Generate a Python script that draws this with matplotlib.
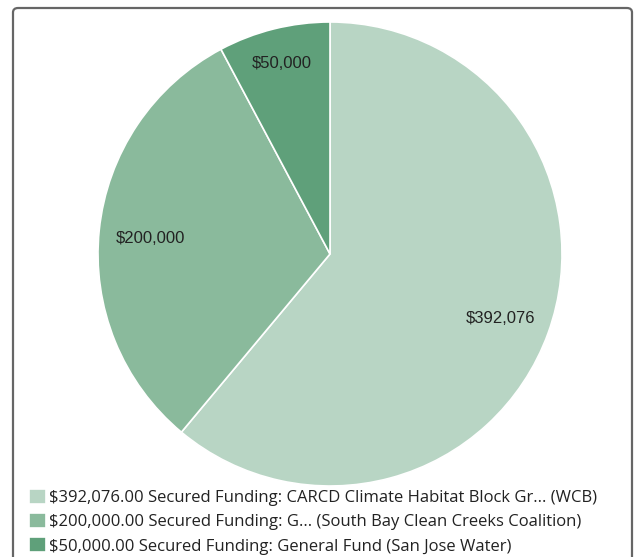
import matplotlib.pyplot as plt
from matplotlib.patches import FancyBboxPatch
import numpy as np

# datos del grafico
valores = [392076, 200000, 50000]
etiquetas = ['$392,076', '$200,000', '$50,000']
leyenda = ['$392,076.00 Secured Funding: CARCD Climate Habitat Block Gr... (WCB)',
           '$200,000.00 Secured Funding: G... (South Bay Clean Creeks Coalition)',
           '$50,000.00 Secured Funding: General Fund (San Jose Water)']
colores = ['#b8d5c4', '#8aba9c', '#5fa07a']

W, H = 639, 557
fig = plt.figure(figsize=(W / 100, H / 100), dpi=100)

# marco redondeado
marco = FancyBboxPatch((13 / W, -0.05), 619 / W, (H - 8) / H + 0.05,
                       boxstyle='round,pad=0,rounding_size=0.008',
                       transform=fig.transFigure, facecolor='none',
                       edgecolor='#666666', linewidth=1.6, zorder=5)
fig.patches.append(marco)

cx, cy, r = 330, 254, 232
ax = fig.add_axes([(cx - r) / W, (H - cy - r) / H, 2 * r / W, 2 * r / H])
wedges, _ = ax.pie(valores, colors=colores, startangle=90, counterclock=False,
                   wedgeprops=dict(edgecolor='white', linewidth=1.2))
ax.set_xlim(-1, 1)
ax.set_ylim(-1, 1)
ax.set_aspect('equal')

# etiquetas dentro de las porciones
dist = [0.78, 0.78, 0.86]
for w, txt, d in zip(wedges, etiquetas, dist):
    ang = np.deg2rad((w.theta1 + w.theta2) / 2)
    ax.text(d * np.cos(ang), d * np.sin(ang) - 0.013, txt, ha='center', va='center',
            fontsize=12, family='Liberation Sans', color='#222222')

leg = fig.legend(wedges, leyenda, loc='upper left',
                 bbox_to_anchor=(29 / W, 1 - 489 / H), frameon=False,
                 prop={'family': 'Open Sans', 'size': 11.95},
                 handlelength=1.0, handleheight=1.0, handletextpad=0.18,
                 labelspacing=0.43, borderaxespad=0, borderpad=0)
for t in leg.get_texts():
    t.set_color('#222222')

fig.savefig('out.png', dpi=100)
